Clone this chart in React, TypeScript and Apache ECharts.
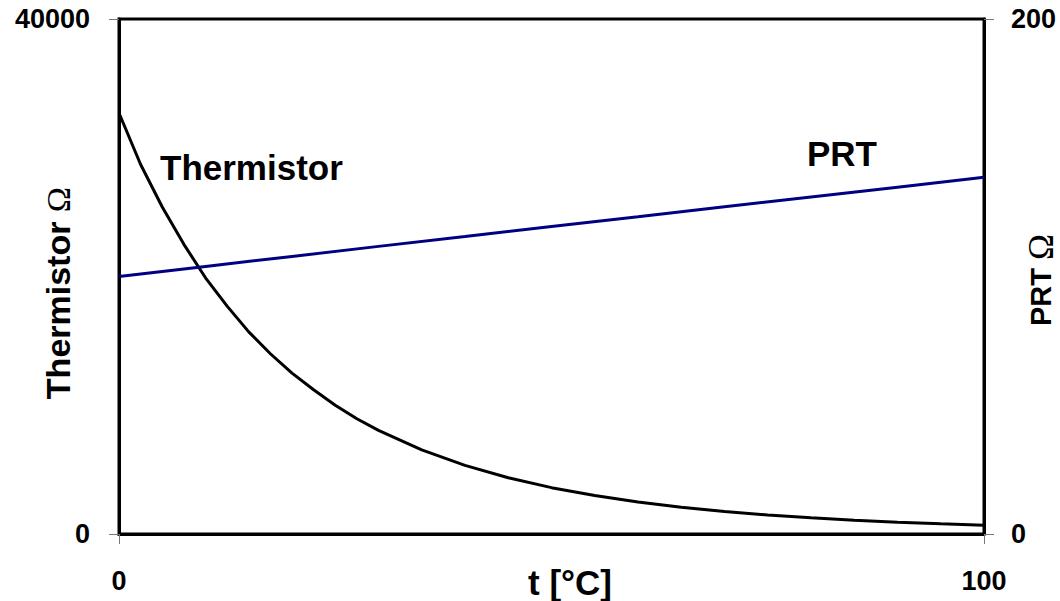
import React, { useEffect, useRef } from "react";
import * as echarts from "echarts";

// Temperature (°C) for thermistor readings
const tThermistor = [0, 2.5, 5, 7.5, 10, 12.5, 15, 17.5, 20, 22.5, 25, 27.5, 30, 35, 40, 45, 50, 55, 60, 65, 70, 75, 80, 85, 90, 95, 100];
// Thermistor resistance (Ω)
const thermistorOhm = [32700, 28700, 25400, 22500, 19900, 17700, 15700, 14000, 12500, 11200, 10000, 8950, 8050, 6530, 5330, 4370, 3600, 2990, 2490, 2080, 1750, 1480, 1260, 1070, 915, 790, 680];
// Temperature (°C) for PRT readings
const tPRT = [0, 10, 20, 30, 40, 50, 60, 70, 80, 90, 100];
// PRT resistance (Ω)
const prtOhm = [100, 103.9, 107.8, 111.7, 115.5, 119.4, 123.2, 127.1, 130.9, 134.7, 138.5];

const xTicks = [0, 100];
const leftTicks = [0, 40000];
const rightTicks = [0, 200];

const FONT = "'Liberation Sans', Arial, sans-serif";
const SERIF = "'Liberation Serif', 'DejaVu Serif', serif";

export default function App() {
  const ref = useRef<HTMLDivElement>(null);

  useEffect(() => {
    if (!ref.current) return;
    const chart = echarts.init(ref.current, undefined, { renderer: "svg" });

    const labelStyle = {
      color: "#000",
      fontSize: 27,
      fontWeight: "bold" as const,
      fontFamily: FONT,
      formatter: (v: number) => String(v),
    };
    const tickStyle = { show: true, length: 10, inside: false, lineStyle: { color: "#777", width: 1 } };

    chart.setOption({
      animation: false,
      backgroundColor: "#fff",
      grid: {
        left: 119,
        right: 76,
        top: 19,
        bottom: 67,
        show: true,
        borderColor: "#000",
        borderWidth: 3,
        containLabel: false,
      },
      xAxis: {
        type: "value",
        min: xTicks[0],
        max: xTicks[1],
        interval: xTicks[1] - xTicks[0],
        axisLine: { show: true, lineStyle: { color: "#000", width: 3 } },
        axisTick: tickStyle,
        splitLine: { show: false },
        axisLabel: { ...labelStyle, margin: 33 },
      },
      yAxis: [
        {
          type: "value",
          position: "left",
          min: leftTicks[0],
          max: leftTicks[1],
          interval: leftTicks[1] - leftTicks[0],
          axisLine: { show: true, lineStyle: { color: "#000", width: 3 } },
          axisTick: tickStyle,
          splitLine: { show: false },
          axisLabel: { ...labelStyle, margin: 29 },
        },
        {
          type: "value",
          position: "right",
          min: rightTicks[0],
          max: rightTicks[1],
          interval: rightTicks[1] - rightTicks[0],
          axisLine: { show: true, lineStyle: { color: "#000", width: 3 } },
          axisTick: tickStyle,
          splitLine: { show: false },
          axisLabel: { ...labelStyle, margin: 27 },
        },
      ],
      series: [
        {
          name: "Thermistor",
          type: "line",
          yAxisIndex: 0,
          data: tThermistor.map((t, i) => [t, thermistorOhm[i]]),
          showSymbol: false,
          symbol: "none",
          lineStyle: { color: "#000", width: 3 },
          z: 3,
        },
        {
          name: "PRT",
          type: "line",
          yAxisIndex: 1,
          data: tPRT.map((t, i) => [t, prtOhm[i]]),
          showSymbol: false,
          symbol: "none",
          lineStyle: { color: "#000080", width: 3 },
          z: 3,
        },
      ],
      graphic: [
        {
          type: "text",
          left: 160,
          top: 150,
          style: { text: "Thermistor", fill: "#000", font: `bold 35px ${FONT}` },
        },
        {
          type: "text",
          left: 807,
          top: 136,
          style: { text: "PRT", fill: "#000", font: `bold 35px ${FONT}` },
        },
        {
          type: "text",
          x: 570,
          y: 582,
          style: {
            text: "t [°C]",
            fill: "#000",
            font: `bold 35px ${FONT}`,
            align: "center",
            verticalAlign: "middle",
          },
        },
        {
          type: "text",
          x: 58,
          y: 293,
          rotation: Math.PI / 2,
          style: {
            text: "{a|Thermistor }{b|Ω}",
            align: "center",
            verticalAlign: "middle",
            rich: {
              a: { fontSize: 34, fontWeight: "bold", fontFamily: FONT, fill: "#000" },
              b: { fontSize: 34, fontWeight: "normal", fontFamily: SERIF, fill: "#000" },
            },
          },
        },
        {
          type: "text",
          x: 1041,
          y: 280,
          rotation: Math.PI / 2,
          style: {
            text: "{a|PRT }{b|Ω}",
            align: "center",
            verticalAlign: "middle",
            rich: {
              a: { fontSize: 29, fontWeight: "bold", fontFamily: FONT, fill: "#000" },
              b: { fontSize: 35, fontWeight: "normal", fontFamily: SERIF, fill: "#000" },
            },
          },
        },
      ],
    });

    return () => chart.dispose();
  }, []);

  return (
    <div
      ref={ref}
      style={{ position: "fixed", left: 0, top: 0, width: 1060, height: 601, background: "#fff" }}
    />
  );
}
